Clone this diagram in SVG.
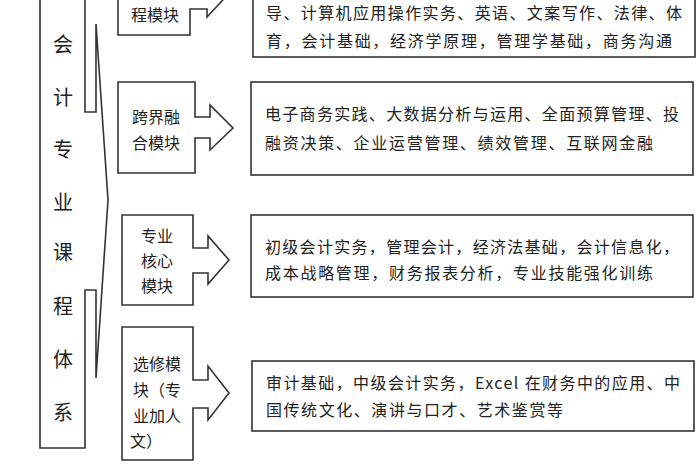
<svg xmlns="http://www.w3.org/2000/svg" width="700" height="470" viewBox="0 0 700 470">
<style>
.s{fill:#fff;stroke:#333;stroke-width:1.6}
.t{font-family:"Noto Sans CJK SC","Liberation Serif",serif;font-size:16px;fill:#222}
.m{font-family:"Noto Sans CJK SC",sans-serif;font-size:16px;fill:#222;text-anchor:middle}
.v{font-family:"Noto Sans CJK SC",sans-serif;font-size:20px;fill:#222;text-anchor:middle}
</style>
<rect width="700" height="470" fill="#fff"/>
<g id="system">
<polygon class="s" points="40,-5 40,448 85,448 85,290 96,290 96,378 108,200 96,24 96,112 85,112 85,-5"/>
<text class="v" x="63" y="52">会</text><text class="v" x="63" y="105">计</text><text class="v" x="63" y="157">专</text><text class="v" x="63" y="210">业</text><text class="v" x="63" y="260">课</text><text class="v" x="63" y="314">程</text><text class="v" x="63" y="367">体</text><text class="v" x="63" y="420">系</text>
</g>
<g id="m1">
<polygon class="s" points="118,-5 118,35 190,35 190,9 207,9 207,17 234,-12 207,-30 190,-30 190,-5"/>
<text class="m" x="155" y="21">程模块</text>
</g>
<g id="m2">
<polygon class="s" points="118,82 118,173 195,173 195,138 210,138 210,150 233,128 210,105 210,117 195,117 195,82"/>
<text class="m" x="156" y="123">跨界融</text><text class="m" x="156" y="149">合模块</text>
</g>
<g id="m3">
<polygon class="s" points="122,215 122,305 193,305 193,273 208,273 208,284 229,260 208,236 208,248 193,248 193,215"/>
<text class="m" x="157" y="242">专业</text><text class="m" x="157" y="267">核心</text><text class="m" x="157" y="292">模块</text>
</g>
<g id="m4">
<polygon class="s" points="122,327 122,460 193,460 193,408 208,408 208,420 229,393 208,366 208,380 193,380 193,327"/>
<text class="m" x="157" y="370">选修模</text><text class="m" x="157" y="396">块（专</text><text class="m" x="157" y="422">业加人</text><text class="m" x="146" y="447">文）</text>
</g>
<g id="c1">
<rect class="s" x="253" y="-5" width="442" height="62"/>
<text class="t" x="266" y="19" textLength="416">导、计算机应用操作实务、英语、文案写作、法律、体</text>
<text class="t" x="266" y="47" textLength="406">育，会计基础，经济学原理，管理学基础，商务沟通</text>
</g>
<g id="c2">
<rect class="s" x="251" y="82" width="442" height="93"/>
<text class="t" x="265" y="120" textLength="414">电子商务实践、大数据分析与运用、全面预算管理、投</text>
<text class="t" x="265" y="149" textLength="388">融资决策、企业运营管理、绩效管理、互联网金融</text>
</g>
<g id="c3">
<rect class="s" x="251" y="215" width="442" height="82"/>
<text class="t" x="265" y="253" textLength="414">初级会计实务，管理会计，经济法基础，会计信息化，</text>
<text class="t" x="265" y="279" textLength="388">成本战略管理，财务报表分析，专业技能强化训练</text>
</g>
<g id="c4">
<rect class="s" x="252" y="361" width="442" height="70"/>
<text class="t" x="266" y="389" textLength="414">审计基础，中级会计实务，Excel 在财务中的应用、中</text>
<text class="t" x="266" y="416" textLength="297">国传统文化、演讲与口才、艺术鉴赏等</text>
</g>
<g id="connectors"/>
</svg>
